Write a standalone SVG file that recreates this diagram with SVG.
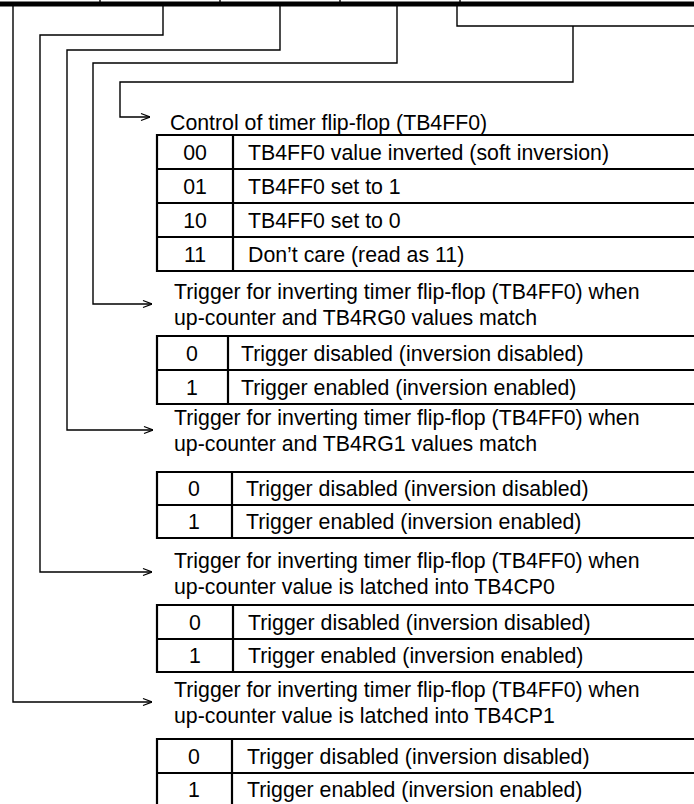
<svg xmlns="http://www.w3.org/2000/svg" width="694" height="804" viewBox="0 0 694 804">
<style>
text{font-family:"Liberation Sans",Arial,sans-serif;font-size:21.3px;fill:#000}
.c{text-anchor:middle}
.conn{fill:none;stroke:#000;stroke-width:1.4}
.tb{fill:none;stroke:#000;stroke-width:2.2}
</style>
<defs>
<marker id="arr" viewBox="0 0 10 10" markerWidth="10" markerHeight="10" refX="10" refY="5" markerUnits="userSpaceOnUse" orient="auto">
<path d="M1,1.5 L10,5 L1,8.5" fill="none" stroke="#000" stroke-width="1.3"/>
</marker>
</defs>
<rect x="0" y="1.5" width="694" height="5" fill="#000"/>
<g id="ticks" class="conn">
<line x1="100" y1="0" x2="100" y2="2"/><line x1="220" y1="0" x2="220" y2="2"/><line x1="340" y1="0" x2="340" y2="2"/><line x1="460" y1="0" x2="460" y2="2"/>
</g>
<g id="connectors" class="conn">
<path d="M13,6 V702 H152" marker-end="url(#arr)"/>
<path d="M163,6 V35 H40 V572 H152" marker-end="url(#arr)"/>
<path d="M280,6 V50 H67 V430 H153" marker-end="url(#arr)"/>
<path d="M397,6 V63 H93 V304 H152" marker-end="url(#arr)"/>
<path d="M457,6 V26 H694"/>
<path d="M573,26 V82 H120 V117 H150" marker-end="url(#arr)"/>
</g>
<g id="ff0-control">
<text x="170" y="129.5">Control of timer flip-flop (TB4FF0)</text>
<path class="tb" d="M694,135 H157 V271 H694 M157,169 H694 M157,203 H694 M157,237 H694 M233,135 V271"/>
<text class="c" x="195" y="159.6">00</text><text x="248" y="159.6">TB4FF0 value inverted (soft inversion)</text>
<text class="c" x="195" y="193.6">01</text><text x="248" y="193.6">TB4FF0 set to 1</text>
<text class="c" x="195" y="227.6">10</text><text x="248" y="227.6">TB4FF0 set to 0</text>
<text class="c" x="195" y="261.6">11</text><text x="248" y="261.6">Don’t care (read as 11)</text>
</g>
<g id="trg-rg0">
<text x="174" y="299">Trigger for inverting timer flip-flop (TB4FF0) when</text>
<text x="174" y="325">up-counter and TB4RG0 values match</text>
<path class="tb" d="M694,336 H157 V404 H694 M157,370 H694 M228,336 V404"/>
<text class="c" x="192" y="360.6">0</text><text x="241" y="360.6">Trigger disabled (inversion disabled)</text>
<text class="c" x="192" y="394.6">1</text><text x="241" y="394.6">Trigger enabled (inversion enabled)</text>
</g>
<g id="trg-rg1">
<text x="174" y="425">Trigger for inverting timer flip-flop (TB4FF0) when</text>
<text x="174" y="451">up-counter and TB4RG1 values match</text>
<path class="tb" d="M694,472 H157 V538 H694 M157,505 H694 M232,472 V538"/>
<text class="c" x="194" y="496">0</text><text x="246" y="496">Trigger disabled (inversion disabled)</text>
<text class="c" x="194" y="529">1</text><text x="246" y="529">Trigger enabled (inversion enabled)</text>
</g>
<g id="trg-cp0">
<text x="174" y="568">Trigger for inverting timer flip-flop (TB4FF0) when</text>
<text x="174" y="594">up-counter value is latched into TB4CP0</text>
<path class="tb" d="M694,605 H157 V672 H694 M157,639 H694 M233,605 V672"/>
<text class="c" x="195" y="629.6">0</text><text x="248" y="629.6">Trigger disabled (inversion disabled)</text>
<text class="c" x="195" y="663">1</text><text x="248" y="663">Trigger enabled (inversion enabled)</text>
</g>
<g id="trg-cp1">
<text x="174" y="697">Trigger for inverting timer flip-flop (TB4FF0) when</text>
<text x="174" y="723">up-counter value is latched into TB4CP1</text>
<path class="tb" d="M694,739 H157 V808 M157,773 H694 M232,739 V808"/>
<text class="c" x="194" y="764">0</text><text x="247" y="764">Trigger disabled (inversion disabled)</text>
<text class="c" x="194" y="797">1</text><text x="247" y="797">Trigger enabled (inversion enabled)</text>
</g>
</svg>
